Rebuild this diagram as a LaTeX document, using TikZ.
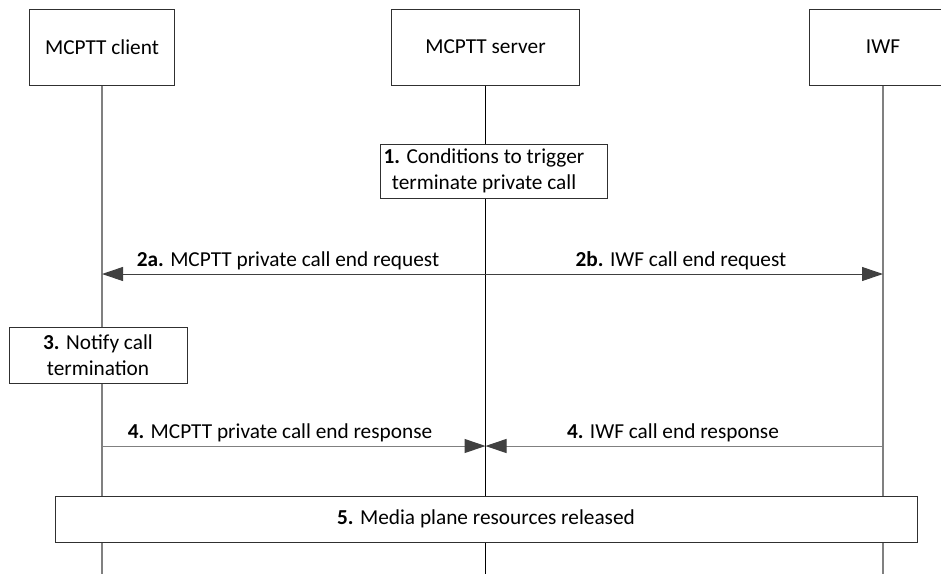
\documentclass[tikz,border=0pt]{standalone}
\usepackage{fontspec}
\setmainfont{Carlito}
\usetikzlibrary{arrows.meta}
\definecolor{boxc}{HTML}{303030}
\definecolor{lifegray}{HTML}{808080}
\definecolor{headc}{HTML}{404040}
\definecolor{darkline}{HTML}{404040}
\begin{document}
\begin{tikzpicture}[x=1pt,y=-1pt,
  txt/.style={font=\fontsize{21.3}{25.5}\selectfont},
  actor/.style={txt, draw=boxc, fill=white, line width=1pt, inner sep=0pt, align=center},
  stepbox/.style={txt, draw=boxc, fill=white, line width=1pt, inner sep=0pt, align=center},
  lifeg/.style={draw=lifegray, line width=1.2pt},
  lifeb/.style={draw=black, line width=1pt},
  msg/.style={line width=1pt, -{Triangle[length=21pt,width=14pt,color=headc]}},
  lbl/.style={txt, anchor=base, inner sep=0pt}
]
\useasboundingbox (0,0) rectangle (941,574);

% actors
\node[actor, minimum width=145pt, minimum height=76pt] (client) at (102,47) {MCPTT client};
\node[actor, minimum width=188pt, minimum height=76pt] (server) at (485.5,47) {MCPTT server};
\node[actor, minimum width=148pt, minimum height=76pt] (iwf) at (883,47) {IWF};

% lifeline ends
\coordinate (clientBot) at (client.south |- 0,574);
\coordinate (serverBot) at (server.south |- 0,574);
\coordinate (iwfBot) at (iwf.south |- 0,574);

\draw[lifeg] (client.south) -- (clientBot);
\draw[lifeb] (server.south) -- (serverBot);
\draw[lifeg] (iwf.south) -- (iwfBot);

% step 1
\node[stepbox, minimum width=227pt, minimum height=54pt] (s1) at (493.5,171) {};
\node[txt, align=center, inner sep=0pt] (s1t) at (484,171)
  {\textbf{1.} Conditions to trigger\\terminate private call};

% messages 2
\coordinate (c2) at (client.south |- 0,274);
\coordinate (s2) at (server.south |- 0,274);
\coordinate (i2) at (iwf.south |- 0,274);
\draw[msg, draw=darkline] (s2) -- (c2);
\draw[msg, draw=darkline] (s2) -- (i2);
\node[lbl] (l2a) at (288,266) {\textbf{2a.} MCPTT private call end request};
\node[lbl] (l2b) at (681,266) {\textbf{2b.} IWF call end request};

% step 3
\node[stepbox, minimum width=178pt, minimum height=56pt] (s3) at (98,355)
  {\textbf{3.} Notify call\\termination};

% messages 4
\coordinate (c4) at (client.south |- 0,446);
\coordinate (s4) at (server.south |- 0,446);
\coordinate (i4) at (iwf.south |- 0,446);
\draw[msg, draw=lifegray] (c4) -- (s4);
\draw[msg, draw=lifegray] (i4) -- (s4);
\node[lbl] (l4a) at (280,438) {\textbf{4.} MCPTT private call end response};
\node[lbl] (l4b) at (673,438) {\textbf{4.} IWF call end response};

% step 5
\node[stepbox, minimum width=862pt, minimum height=46pt] (s5) at (486,519)
  {\textbf{5.} Media plane resources released};
\end{tikzpicture}
\end{document}
